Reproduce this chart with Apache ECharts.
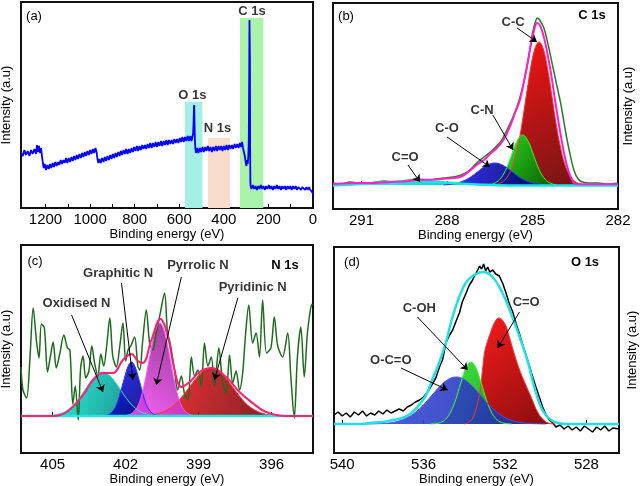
<!DOCTYPE html>
<html><head><meta charset="utf-8">
<script src="https://cdn.jsdelivr.net/npm/echarts@6/dist/echarts.min.js"></script>
<style>html,body{margin:0;padding:0;background:#fff}#c{width:640px;height:486px}</style>
</head><body><div id="c"></div>
<script>
// ---------- DATA ----------
// (a) survey spectrum [binding energy eV, intensity a.u.]
const surveyData = [[1310,55],[1302,52],[1295,58],[1288,53],[1280,57],[1272,52],[1265,58],[1258,54],[1250,59],[1243,54],[1238,63],[1234,56],[1229,62],[1224,55],[1220,60],[1216,52],[1212,45],[1208,40],[1203,44],[1198,38],[1192,43],[1186,39],[1180,44],[1174,40],[1168,45],[1162,41],[1156,46],[1150,42],[1144,46],[1138,43],[1132,48],[1126,44],[1120,48],[1114,45],[1108,50],[1102,45],[1096,50],[1090,46],[1084,51],[1078,47],[1072,52],[1066,48],[1060,53],[1054,49],[1048,54],[1042,50],[1036,55],[1030,51],[1024,56],[1018,52],[1012,57],[1006,53],[1000,58],[994,54],[988,59],[982,55],[976,60],[971,56],[967,49],[963,45],[958,49],[952,45],[946,50],[940,46],[934,51],[928,47],[922,52],[916,48],[910,53],[904,49],[898,54],[892,50],[886,55],[880,51],[874,56],[868,52],[862,57],[856,53],[850,58],[844,54],[838,59],[832,54],[826,59],[820,55],[814,60],[808,56],[802,61],[796,57],[790,62],[784,57],[778,62],[772,58],[766,63],[760,59],[754,63],[748,59],[742,64],[736,60],[730,65],[724,60],[718,65],[712,61],[706,66],[700,61],[694,66],[688,62],[682,67],[676,62],[670,67],[664,63],[658,68],[652,63],[646,68],[640,64],[634,68],[628,64],[622,69],[616,65],[610,69],[604,65],[598,70],[592,66],[586,71],[580,66],[574,71],[568,67],[562,72],[556,67],[550,72],[545,67],[541,71],[538,74],[536,84],[534,100],[533,103],[532,90],[530,70],[528,60],[525,55],[520,60],[514,55],[508,60],[502,56],[496,61],[490,56],[484,61],[478,57],[472,62],[466,57],[460,61],[454,56],[448,61],[442,57],[436,62],[430,57],[424,62],[418,58],[412,62],[406,57],[400,62],[394,58],[388,63],[382,58],[376,63],[370,59],[364,63],[358,59],[352,64],[346,60],[340,64],[334,60],[328,65],[322,61],[318,66],[314,60],[310,58],[306,52],[302,46],[299,42],[296,48],[293,44],[290,52],[288,70],[286,140],[285,188],[284,190],[283,150],[282,60],[281,26],[280,22],[276,19],[270,23],[264,19],[258,22],[252,18],[246,22],[240,19],[234,23],[228,19],[222,22],[216,18],[210,22],[204,19],[198,23],[192,19],[186,22],[180,18],[174,22],[168,19],[162,23],[156,19],[150,22],[144,18],[138,22],[132,19],[126,22],[120,18],[114,22],[108,19],[102,22],[96,18],[90,22],[84,19],[78,22],[72,18],[66,21],[60,20],[54,18],[48,21],[42,20],[36,18],[30,21],[24,18],[18,21],[12,18],[8,19],[4,16],[1,15],[0,14]];
// highlighted regions [from eV, to eV, height]
const surveyRegions = [[574,496,106],[471,373,70],[328,223,190]];
const surveyLabels = [['C 1s',274,196.5],['O 1s',541.6,113],['N 1s',429,80]];
const aTicks = [0,200,400,600,800,1000,1200];
const aMinorTicks = [0,100,200,300,400,500,600,700,800,900,1000,1100,1200];

// (b) C 1s
const bRaw = [[292,2],[291.7,1],[291.4,3],[291.1,2],[290.8,2],[290.5,3],[290.2,4],[289.9,3],[289.6,4],[289.3,5],[289.0,6],[288.7,5],[288.4,6],[288.1,7],[287.8,8],[287.5,10],[287.2,15],[287.0,21],[286.7,28],[286.4,35],[286.1,44],[285.9,55],[285.7,67],[285.5,82],[285.3,103],[285.15,125],[285.0,152],[284.9,163],[284.83,167],[284.75,165],[284.6,157],[284.45,140],[284.3,120],[284.15,100],[284.0,80],[283.85,55],[283.7,33],[283.55,15],[283.4,6],[283.25,3],[283.0,2],[282.7,2],[282.4,1],[282.0,2]];
const bEnvelope = [[292,1],[291,2],[290.7,2],[290,3],[289.5,3.5],[289,5],[288.36,5.5],[288,6.5],[287.54,8],[287.25,13],[286.96,20],[286.7,25],[286.49,31],[286.25,37],[286.02,45],[285.8,58],[285.6,73],[285.44,85],[285.2,118],[284.97,152],[284.83,162],[284.64,152],[284.39,118],[284.21,85],[283.98,45],[283.78,18],[283.57,3],[283.4,0.8],[283,0.8],[282,0.8]];
const bCC = [[286.37,0],[286.17,1.4],[285.97,5],[285.82,11],[285.67,21],[285.52,38],[285.37,61],[285.22,89],[285.07,116],[284.92,136],[284.77,143],[284.62,136],[284.47,116],[284.32,89],[284.17,61],[284.02,38],[283.87,21],[283.72,11],[283.57,5],[283.37,1.4],[283.17,0]];
const bCN = [[286.55,0],[286.35,1.6],[286.15,5.5],[285.95,14.4],[285.75,28.7],[285.55,43.5],[285.35,50],[285.15,43.5],[284.95,28.7],[284.75,14.4],[284.55,5.5],[284.35,1.6],[284.15,0]];
const bCO = [[288.12,0],[287.82,1],[287.52,3],[287.22,7.1],[286.92,13.3],[286.62,19.4],[286.32,22],[286.02,19.4],[285.72,13.3],[285.42,7.1],[285.12,3],[284.82,1],[284.52,0]];
const bCdO = [[292,-0.5],[291,1],[290.3,2.5],[289.6,3.5],[288.9,3.8],[288.3,3],[287.8,2],[287.3,1],[286.8,0.3],[286.2,-0.3],[285.5,-0.5],[282,-0.5]];
const bLabels = [['C-C',285.68,163],['C-N',286.77,75],['C-O',288.0,57],['C=O',289.47,28]];
const bArrows = [[[285.54,157],[284.84,143]],[[286.39,70],[285.68,35]],[[288.0,48],[286.49,18]],[[289.37,20],[288.95,3]]];
const bTicks = [282,285,288,291];

// (c) N 1s
const cRaw = [[406.3,49],[406.22,26],[406.07,18],[405.93,59],[405.8,108],[405.66,74],[405.56,58],[405.46,92],[405.34,88],[405.21,44],[405.09,60],[404.98,74],[404.85,48],[404.7,63],[404.54,81],[404.39,68],[404.29,66],[404.17,12],[404.07,30],[403.95,-4],[403.85,48],[403.75,60],[403.64,38],[403.51,45],[403.39,70],[403.27,52],[403.14,40],[403.02,62],[402.9,50],[402.78,70],[402.65,98],[402.53,60],[402.38,49],[402.24,70],[402.11,93],[402.0,55],[401.9,66],[401.79,70],[401.63,79],[401.5,50],[401.42,46],[401.3,75],[401.15,106],[401.01,72],[400.88,66],[400.77,80],[400.6,100],[400.4,123],[400.28,83],[400.19,75],[399.99,46],[399.87,26],[399.71,40],[399.58,22],[399.44,16],[399.3,59],[399.17,40],[399.03,46],[398.89,30],[398.76,73],[398.62,50],[398.48,59],[398.35,30],[398.17,68],[398.01,33],[397.87,23],[397.73,61],[397.6,33],[397.46,45],[397.32,26],[397.19,43],[397.08,79],[396.94,111],[396.78,73],[396.64,83],[396.5,59],[396.37,116],[396.21,63],[396.03,68],[395.89,99],[395.75,70],[395.55,59],[395.34,83],[395.21,39],[395.07,-2],[394.94,59],[394.8,89],[394.66,39],[394.53,83],[394.39,109],[394.33,112]];
const cEnvelope = [[406.3,0],[404.98,0],[404.43,4],[403.75,21],[403.34,36],[402.93,43],[402.52,43],[402.11,56],[401.76,62],[401.5,55],[401.3,53],[400.94,76],[400.57,97],[400.26,79],[399.99,46],[399.71,29],[399.37,34],[398.96,44],[398.49,48],[397.87,39],[397.32,24],[396.78,13],[396.23,4],[395.41,0],[394.3,0]];
const cOxidised = [[405.34,0],[405.04,0.6],[404.74,2],[404.44,5],[404.14,11],[403.84,20],[403.54,31],[403.24,40],[402.94,44],[402.64,40],[402.34,31],[402.04,20],[401.74,11],[401.44,5],[401.14,2],[400.84,0.6],[400.54,0]];
const cGraphitic = [[402.96,0],[402.81,0.6],[402.66,2],[402.51,5.4],[402.36,12],[402.21,24],[402.06,37],[401.91,49],[401.76,54],[401.61,49],[401.46,37],[401.31,24],[401.16,12],[401.01,5.4],[400.86,2],[400.71,0.6],[400.56,0]];
const cPyrrolic = [[402.2,0],[402.0,0.5],[401.8,1.9],[401.65,4.7],[401.5,10],[401.35,20],[401.2,35],[401.05,54],[400.9,73],[400.75,87.5],[400.6,93],[400.45,87.5],[400.3,73],[400.15,54],[400.0,35],[399.85,20],[399.7,10],[399.55,4.7],[399.4,1.9],[399.2,0.5],[399.0,0]];
const cPyridinic = [[401.49,0],[401.19,0.5],[400.89,1.2],[400.59,2.8],[400.29,6],[399.99,11],[399.69,19],[399.39,28.5],[399.09,38],[398.79,45],[398.49,48],[398.19,45],[397.89,38],[397.59,28.5],[397.29,19],[396.99,11],[396.69,6],[396.39,2.8],[396.09,1.2],[395.79,0.5],[395.49,0]];
const cBaseline = [[406.3,0],[394.3,0]];
const cLabels = [['Oxidised N',404.02,113],['Graphitic N',402.31,143],['Pyrrolic N',399.03,151],['Pyridinic N',396.78,129]];
const cArrows = [[[404.22,101],[402.93,24]],[[402.17,133],[401.7,36]],[[399.71,139],[400.74,31]],[[397.39,118],[398.35,36]]];
const cTicks = [396,399,402,405];

// (d) O 1s
const dRaw = [[540.4,9],[540.2,12],[540.0,8],[539.8,11],[539.6,7],[539.4,12],[539.2,9],[539.0,13],[538.8,8],[538.6,11],[538.4,9],[538.2,13],[538.0,10],[537.8,14],[537.6,11],[537.4,13],[537.2,15],[537.0,13],[536.8,17],[536.6,19],[536.4,22],[536.2,24],[536.0,27],[535.8,32],[535.6,39],[535.4,46],[535.2,58],[535.07,64],[534.9,81],[534.75,88],[534.57,94],[534.4,103],[534.24,111],[534.1,122],[533.91,131],[533.75,139],[533.59,144],[533.45,150],[533.34,154],[533.25,158],[533.15,155],[533.05,160],[532.95,153],[532.85,157],[532.75,152],[532.6,154],[532.45,150],[532.28,148],[532.1,140],[531.95,131],[531.8,121],[531.62,112],[531.45,100],[531.3,91],[531.1,77],[530.89,64],[530.7,51],[530.48,37],[530.3,26],[530.15,17],[530.0,10],[529.82,4],[529.65,1],[529.5,-3],[529.3,-1],[529.1,-5],[528.9,-2],[528.7,-6],[528.5,-3],[528.3,-7],[528.1,-2],[527.9,-5],[527.7,-8],[527.5,-3],[527.3,-6],[527.1,-2],[526.9,-7],[526.7,-4],[526.4,-5]];
const dEnvelope = [[540.4,0],[539,0],[538.68,1],[538,2],[537.5,4],[537.04,6],[536.6,11],[536.22,19],[535.9,28],[535.73,36],[535.5,48],[535.24,61],[534.91,81],[534.58,107],[534.25,127],[533.93,141],[533.52,149],[533.09,152],[532.61,147],[532.15,132],[531.79,115],[531.3,88],[530.89,63],[530.6,40],[530.3,20],[530.0,9],[529.66,3],[529.34,1],[529.0,0],[526.4,0]];
const dOCO = [[538.8,0],[538.4,0.2],[538.0,0.5],[537.6,1.3],[537.2,3.1],[536.8,6.4],[536.4,11.7],[536.0,19.3],[535.6,28.5],[535.2,37.6],[534.8,44.5],[534.4,47],[534.0,44.5],[533.6,37.6],[533.2,28.5],[532.8,19.3],[532.4,11.7],[532.0,6.4],[531.6,3.1],[531.2,1.3],[530.8,0.5],[530.4,0.2],[530.0,0]];
const dCOH = [[535.67,0],[535.42,0.4],[535.17,1.5],[534.92,4.7],[534.67,12],[534.42,24.5],[534.17,41],[533.92,56],[533.67,62],[533.42,56],[533.17,41],[532.92,24.5],[532.67,12],[532.42,4.7],[532.17,1.5],[531.92,0.4],[531.67,0]];
const dCdO = [[534.0,0],[533.7,3],[533.5,10],[533.3,25],[533.2,38],[533.1,55],[533.0,72],[532.9,80],[532.7,92],[532.5,102],[532.3,106],[532.0,100],[531.8,88],[531.6,74],[531.3,55],[531.0,40],[530.7,26],[530.4,12],[530.1,4],[529.8,0.5],[529.5,0]];
const dLabels = [['C-OH',536.21,116],['C=O',530.96,122],['O-C=O',537.61,64]];
const dArrows = [[[536.3,107],[533.83,54]],[[531.29,112],[532.36,76]],[[537.11,56],[534.82,34]]];
const dTicks = [528,532,536,540];

// ---------- CHART ----------
const FONT = "'Liberation Sans', Arial, Helvetica, sans-serif";
const chart = echarts.init(document.getElementById('c'), null, {renderer: 'canvas'});
function grad(c1, c2, x1, y1, x2, y2) {
  return new echarts.graphic.LinearGradient(x1, y1, x2, y2, [{offset: 0, color: c1}, {offset: 1, color: c2}]);
}
const gridBase = {show: true, borderColor: '#111', borderWidth: 2, backgroundColor: 'rgba(0,0,0,0)', outerBoundsMode: 'none'};
const grids = [
  Object.assign({left: 21, top: 2, width: 292, height: 206}, gridBase),
  Object.assign({left: 333, top: 3, width: 285, height: 206}, gridBase),
  Object.assign({left: 21, top: 245, width: 292, height: 208}, gridBase),
  Object.assign({left: 334, top: 247, width: 285, height: 206}, gridBase)
];
function xAx(i, min, max, ticks, tickMarks) {
  return {
    gridIndex: i, type: 'value', min: min, max: max, inverse: true,
    axisLine: {show: false}, splitLine: {show: false},
    axisTick: {show: true, inside: true, length: 4, lineStyle: {color: '#000', width: 1}, customValues: tickMarks || ticks},
    axisLabel: {fontSize: 15, color: '#000', margin: 4, fontFamily: FONT, customValues: ticks, formatter: v => String(v)},
    name: 'Binding energy (eV)', nameLocation: 'middle', nameGap: 17,
    nameTextStyle: {fontSize: 13, color: '#000', fontFamily: FONT}
  };
}
function yAx(i, min, max, pos, gap) {
  return {
    gridIndex: i, type: 'value', min: min, max: max, position: pos,
    axisLine: {show: false}, axisTick: {show: false}, axisLabel: {show: false}, splitLine: {show: false},
    name: 'Intensity (a.u)', nameLocation: 'middle', nameGap: gap, nameRotate: 90,
    nameTextStyle: {fontSize: 13, color: '#000', fontFamily: FONT}
  };
}
function line(i, data, color, width, smooth, z) {
  return {type: 'line', xAxisIndex: i, yAxisIndex: i, data: data, symbol: 'none', smooth: smooth,
    lineStyle: {color: color, width: width}, silent: true, z: z || 2};
}
function area(i, data, edge, fill, op) {
  return {type: 'line', xAxisIndex: i, yAxisIndex: i, data: data, symbol: 'none', smooth: 0.4,
    lineStyle: {color: edge, width: 1}, areaStyle: {color: fill, opacity: op || 0.92}, silent: true, z: 2};
}
function notes(i, labels, arrows) {
  return {
    type: 'scatter', xAxisIndex: i, yAxisIndex: i, symbolSize: 1, silent: true, z: 5,
    itemStyle: {color: 'rgba(0,0,0,0)'},
    data: labels.map(l => [l[1], l[2], l[0]]),
    label: {show: true, position: 'inside', formatter: p => p.value[2], color: '#000',
      fontWeight: 'bold', fontSize: 13, fontFamily: FONT},
    markLine: arrows ? {
      silent: true, symbol: ['none', 'arrow'], symbolSize: 7, animation: false,
      label: {show: false}, lineStyle: {color: '#000', width: 1, type: 'solid'},
      data: arrows.map(a => [{coord: a[0]}, {coord: a[1]}])
    } : undefined
  };
}
const regionColors = ['#a3efe6', '#f9ddcc', '#abf3ab'];
const series = [
  // (a)
  {type: 'line', xAxisIndex: 0, yAxisIndex: 0, data: surveyData, symbol: 'none', lineStyle: {opacity: 0}, silent: true, z: 1,
    markArea: {silent: true, data: surveyRegions.map((r, k) => [{coord: [r[0], 0], itemStyle: {color: regionColors[k]}}, {coord: [r[1], r[2]]}])}},
  line(0, surveyData, '#0000ff', 1.8, false, 3),
  notes(0, surveyLabels, null),
  // (b)
  line(1, bRaw, '#2b7a2b', 1.5, 0.3, 2),
  area(1, bCC, '#ff3030', grad('#ff0000', '#650000', 0, 0, 1, 1)),
  area(1, bCN, '#30ff30', grad('#22ff22', '#005c00', 0, 0, 1, 1)),
  area(1, bCO, '#3030ff', grad('#2020ff', '#00005a', 0, 0, 1, 1)),
  Object.assign(area(1, bCdO, '#10e8e8', grad('#00ffff', '#008888', 0, 0, 1, 1)), {lineStyle: {color: '#10e8e8', width: 2.5}}),
  line(1, bEnvelope, '#ff22cc', 2, 0.4, 3),
  notes(1, bLabels, bArrows),
  // (c)
  line(2, cRaw, '#1e6b1e', 1.5, 0.3, 2),
  area(2, cOxidised, '#22f0e0', grad('#10ffe8', '#0a6464', 0, 0, 1, 1), 0.9),
  area(2, cPyridinic, '#ff3030', grad('#ff1a1a', '#6a0008', 0, 0, 1, 1), 0.88),
  area(2, cGraphitic, '#2a2aff', grad('#1a1aff', '#000070', 0, 0, 1, 1), 0.9),
  area(2, cPyrrolic, '#ff50ff', grad('#7a1a78', '#ff50ff', 1, 0, 0, 1), 0.88),
  line(2, cBaseline, '#20e6e6', 2.5, false, 3),
  line(2, cEnvelope, '#ff2070', 2, 0.4, 3),
  notes(2, cLabels, cArrows),
  // (d)
  line(3, dRaw, '#000000', 1.5, false, 2),
  area(3, dCdO, '#ff3030', grad('#ff1010', '#800000', 0, 0, 1, 1), 0.95),
  area(3, dCOH, '#40ff40', grad('#33ee33', '#119911', 0, 0, 1, 1), 0.92),
  area(3, dOCO, '#4455ee', grad('#3f51e8', '#1a2a9a', 0, 0, 1, 1), 0.9),
  line(3, dEnvelope, '#22e0e0', 2.5, 0.4, 3),
  notes(3, dLabels, dArrows)
];
function txt(x, y, s, bold) {
  return {type: 'text', x: x, y: y, z: 10, silent: true,
    style: {text: s, fill: '#000', font: (bold ? 'bold ' : '') + '13px ' + FONT, align: 'center', verticalAlign: 'middle'}};
}
chart.setOption({
  animation: false,
  backgroundColor: '#fff',
  grid: grids,
  xAxis: [xAx(0, 0, 1310, aTicks, aMinorTicks), xAx(1, 282, 292, bTicks), xAx(2, 394.3, 406.3, cTicks), xAx(3, 526.4, 540.4, dTicks)],
  yAxis: [yAx(0, 0, 206, 'left', 8), yAx(1, -24, 182, 'right', 4), yAx(2, -37, 171, 'left', 8), yAx(3, -29, 177, 'right', 7)],
  series: series,
  graphic: [
    txt(34, 16, '(a)'), txt(346, 16, '(b)'), txt(35, 261, '(c)'), txt(352, 262, '(d)'),
    txt(592, 15, 'C 1s', true), txt(285, 265, 'N 1s', true), txt(585, 262, 'O 1s', true)
  ]
});
</script></body></html>
